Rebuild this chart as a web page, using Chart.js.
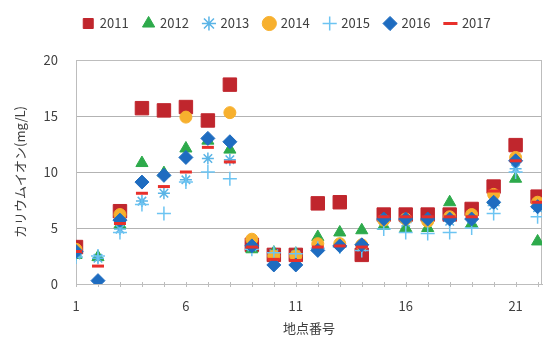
<!DOCTYPE html>
<html>
<head>
<meta charset="utf-8">
<script src="https://cdn.jsdelivr.net/npm/chart.js@4.4.0/dist/chart.umd.min.js"></script>
<style>
    body { margin: 0; background: #ffffff; }
    #box { width: 546px; height: 338px; }
</style>
</head>
<body>
<div id="box"><canvas id="goo"></canvas></div>
<script>
// site numbers and potassium values per year (mg/L)
let sites = [1, 2, 3, 4, 5, 6, 7, 8, 9, 10, 11, 12, 13, 14, 15, 16, 17, 18, 19, 20, 21, 22];
let years = ['2011', '2012', '2013', '2014', '2015', '2016', '2017'];
let y2011 = [3.3, null, 6.5, 15.7, 15.5, 15.8, 14.6, 17.8, 3.5, 2.6, 2.6, 7.2, 7.3, 2.6, 6.2, 6.2, 6.2, 6.2, 6.7, 8.7, 12.4, 7.8];
let y2012 = [2.6, 2.4, 5.3, 10.8, 9.9, 12.1, 12.8, 12.0, 3.1, 2.8, 2.7, 4.2, 4.6, 4.8, 5.2, 5.0, 5.0, 7.3, 5.4, 7.5, 9.4, 3.8];
let y2013 = [2.6, 2.3, 4.9, 7.4, 8.1, 9.3, 11.2, 11.1, 3.3, 2.7, 2.6, 3.5, 3.6, 3.3, 5.6, 5.5, 5.6, 5.6, 5.8, 7.0, 10.3, 6.8];
let y2014 = [3.1, null, 6.2, null, null, 14.9, null, 15.3, 4.0, 2.5, 2.5, 3.6, 3.6, 3.5, 5.7, 5.8, 5.6, 6.0, 6.2, 8.0, 11.3, 7.3];
let y2015 = [2.4, 2.5, 4.6, 7.1, 6.3, 9.1, 10.0, 9.4, 3.1, 2.8, 2.7, 3.2, 3.3, 3.0, 4.9, 4.6, 4.5, 4.6, 5.0, 6.3, 10.0, 6.0];
let y2016 = [2.9, 0.3, 5.7, 9.1, 9.7, 11.3, 13.0, 12.7, 3.4, 1.7, 1.7, 3.0, 3.4, 3.5, 5.8, 5.8, 5.8, 5.8, 5.8, 7.3, 11.0, 6.9];
let y2017 = [2.9, 1.6, 5.4, 8.1, 8.7, 10.0, 12.2, 10.9, 3.3, 2.2, 2.1, 3.3, 3.4, 3.3, 6.0, 6.0, 6.0, 6.0, 6.0, 8.3, 11.0, 7.3];
let yTicks = [0, 5, 10, 15, 20];
let xLabelTicks = [1, 6, 11, 16, 21];

let allValues = [y2011, y2012, y2013, y2014, y2015, y2016, y2017];
let shapes = ['rect', 'triangle', 'star', 'circle', 'cross', 'rectRot', 'line'];
let colors = ['#C0262D', '#2DAA4B', '#5AB4E6', '#F7B02E', '#6CC4F2', '#1E6CC0', '#E8302B'];
let sizes = [9.5, 7, 6, 6, 7, 7, 6];
let widths = [1, 1, 1.5, 1, 1.5, 1, 3];

let fontName = "'Noto Sans CJK JP', 'Noto Sans', sans-serif";
let textColor = '#404040';

let sets = [];
for (let i = 0; i < years.length; i++) {
    let pts = [];
    for (let j = 0; j < sites.length; j++) {
        if (allValues[i][j] !== null) pts.push({ x: sites[j], y: allValues[i][j] });
    }
    sets.push({
        label: years[i],
        data: pts,
        pointStyle: shapes[i],
        pointRadius: sizes[i],
        pointHoverRadius: sizes[i],
        backgroundColor: colors[i],
        borderColor: colors[i],
        borderWidth: widths[i],
        order: years.length - i
    });
}

// grey frame round the plot, small tick marks on the x axis, legend nudged right
let frame = {
    id: 'frame',
    afterLayout: function(chart) {
        chart.legend.left += 12;
        chart.legend.right += 12;
    },
    beforeDatasetsDraw: function(chart) {
        let a = chart.chartArea;
        let c = chart.ctx;
        let xs = chart.scales.x;
        c.save();
        c.strokeStyle = '#BDBDBD';
        c.lineWidth = 1;
        c.strokeRect(a.left + 0.5, a.top + 0.5, a.right - a.left - 1, a.bottom - a.top);
        c.beginPath();
        for (let i = 0; i < sites.length; i++) {
            let px = Math.round(xs.getPixelForValue(sites[i])) + 0.5;
            c.moveTo(px, a.bottom - 2);
            c.lineTo(px, a.bottom + 3);
        }
        c.stroke();
        c.restore();
    }
};

var ctx = document.getElementById("goo").getContext('2d');
var goo = new Chart(ctx, {
    type: 'scatter',
    data: { datasets: sets },
    plugins: [frame],
    options: {
        responsive: true,
        maintainAspectRatio: false,
        animation: false,
        layout: { autoPadding: false, padding: { left: 8, right: 4, top: 2, bottom: 0 } },
        plugins: {
            tooltip: { enabled: false },
            legend: {
                position: 'top',
                labels: {
                    usePointStyle: true,
                    boxWidth: 10,
                    boxHeight: 10,
                    padding: 15,
                    color: textColor,
                    font: { family: fontName, size: 13 },
                    sort: function(a, b) { return a.datasetIndex - b.datasetIndex; }
                }
            }
        },
        scales: {
            x: {
                type: 'linear',
                min: 1,
                max: 22.2,
                afterFit: function(scale) { scale.height = 54; },
                afterBuildTicks: function(scale) {
                    scale.ticks = xLabelTicks.map(function(v) { return { value: v }; });
                },
                ticks: {
                    autoSkip: false,
                    maxRotation: 0,
                    padding: 0,
                    color: textColor,
                    font: { family: fontName, size: 13 }
                },
                grid: { drawOnChartArea: false, tickLength: 14, tickColor: 'rgba(0,0,0,0)' },
                border: { color: '#BDBDBD' },
                title: { display: true, text: '地点番号', color: textColor, font: { family: fontName, size: 13 }, padding: { top: 0, bottom: 2 } }
            },
            // empty axis at the top, only to leave room under the legend
            x2: {
                type: 'linear',
                position: 'top',
                display: true,
                afterFit: function(scale) { scale.height = 20; },
                ticks: { display: false },
                grid: { display: false },
                border: { display: false }
            },
            y: {
                min: 0,
                max: 20,
                afterFit: function(scale) { scale.width = 68; },
                afterBuildTicks: function(scale) {
                    scale.ticks = yTicks.map(function(v) { return { value: v }; });
                },
                ticks: { color: textColor, font: { family: fontName, size: 13 }, padding: 18 },
                grid: { color: '#B3B3B3', drawTicks: false },
                border: { color: '#BDBDBD' },
                title: { display: true, text: 'カリウムイオン(mg/L)', color: textColor, font: { family: fontName, size: 13 } }
            }
        }
    }
});
</script>
</body>
</html>
